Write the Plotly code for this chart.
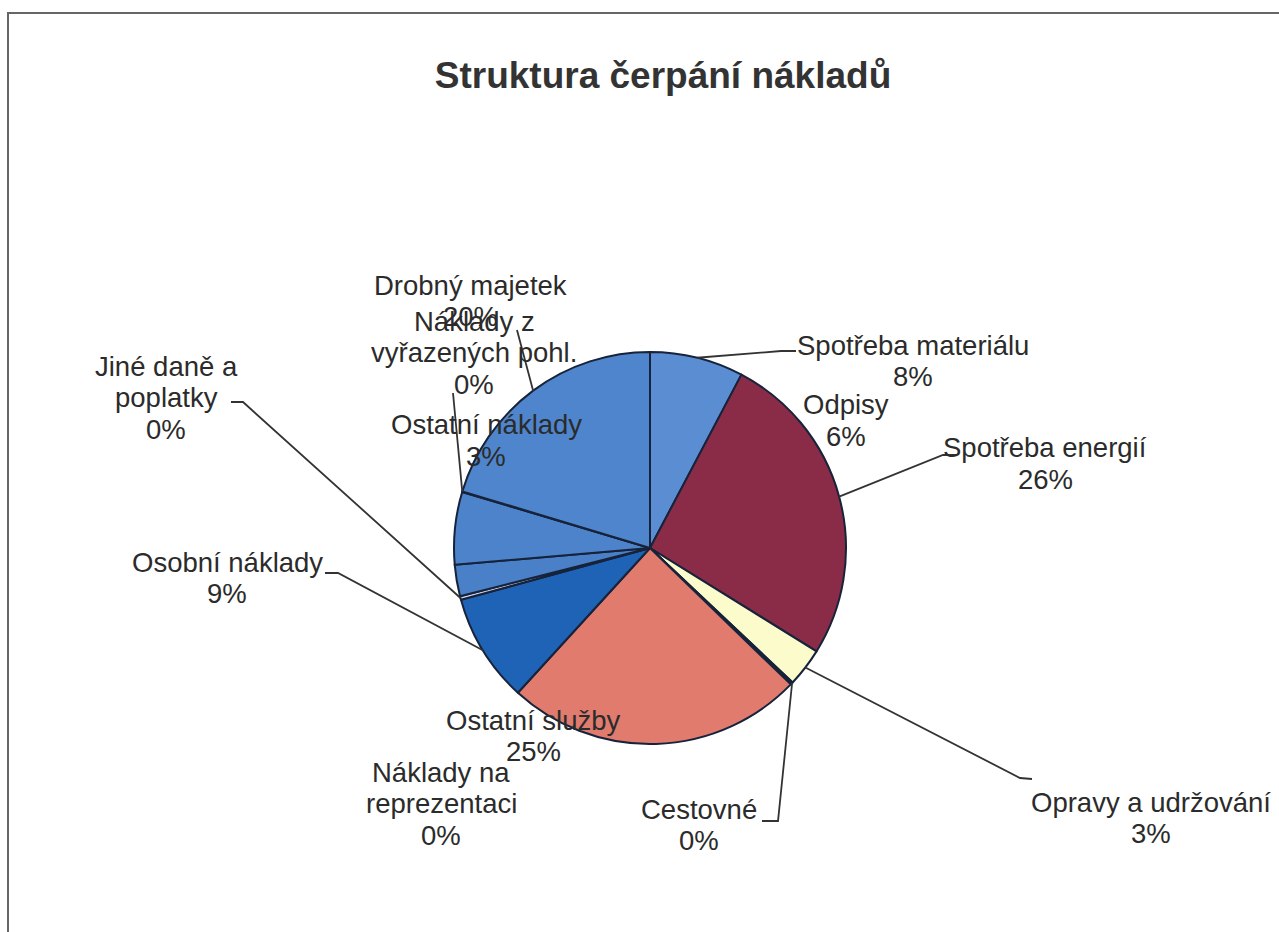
import math
import plotly.graph_objects as go

# ---- data ----
categories = [
    "Spotřeba materiálu", "Spotřeba energií", "Opravy a udržování", "Cestovné",
    "Náklady na reprezentaci", "Ostatní služby", "Osobní náklady",
    "Jiné daně a poplatky", "Ostatní náklady", "Odpisy",
    "Náklady z vyřazených pohl.", "Drobný majetek",
]
values = [7.75, 26.2, 3.2, 0.12, 0.1, 24.6, 9.0, 0.3, 2.6, 6.0, 0.05, 20.4]
pct_labels = ["8%", "26%", "3%", "0%", "0%", "25%", "9%", "0%", "3%", "6%", "0%", "20%"]
label_lines = [
    ["Spotřeba materiálu"], ["Spotřeba energií"], ["Opravy a udržování"], ["Cestovné"],
    ["Náklady na", "reprezentaci"], ["Ostatní služby"], ["Osobní náklady"],
    ["Jiné daně a", "poplatky"], ["Ostatní náklady"], ["Odpisy"],
    ["Náklady z", "vyřazených pohl."], ["Drobný majetek"],
]
colors = ["#5b8dd3", "#8a2c48", "#fbfbcc", "#cdeff5", "#6a1c5c", "#e07b6e",
          "#1f63b6", "#c9d2f0", "#4a80c8", "#4d83ca", "#5588cc", "#4f85cc"]

# ---- layout geometry (pixels) ----
W, H = 1279, 932
CX, CY, R = 650, 548, 196
FONT = "Liberation Sans, Arial, sans-serif"
LBL_SIZE = 27.5
LINE_STEP = 31.5

# label placement: centre x, first line centre y
label_pos = {
    "Spotřeba materiálu": (913, 345),
    "Spotřeba energií": (1045, 448),
    "Opravy a udržování": (1151, 802),
    "Cestovné": (699, 809),
    "Náklady na reprezentaci": (441, 772),
    "Ostatní služby": (533, 720),
    "Osobní náklady": (227, 562),
    "Jiné daně a poplatky": (166, 366),
    "Ostatní náklady": (486, 425),
    "Odpisy": (846, 405),
    "Náklady z vyřazených pohl.": (474, 321),
    "Drobný majetek": (471, 285),
}
# leader line elbows (pixels) per category: list of points after the pie point
leaders = {
    "Spotřeba materiálu": [(781, 351), (796, 351)],
    "Spotřeba energií": [(943, 455), (957, 455)],
    "Opravy a udržování": [(1020, 778), (1032, 779)],
    "Cestovné": [(778, 821), (762, 821)],
    "Osobní náklady": [(338, 573), (325, 573)],
    "Jiné daně a poplatky": [(243, 402), (231, 402)],
    "Náklady z vyřazených pohl.": [(453, 393)],
    "Drobný majetek": [(517, 330)],
}


def px(x):
    return x / W


def py(y):
    return 1 - y / H


fig = go.Figure(go.Pie(
    labels=categories,
    values=values,
    sort=False,
    direction="clockwise",
    rotation=0,
    textinfo="none",
    marker=dict(colors=colors, line=dict(color="#17233a", width=2)),
    domain=dict(x=[px(CX - R), px(CX + R)], y=[py(CY + R), py(CY - R)]),
    showlegend=False,
))

total = sum(values)
annotations = []
shapes = []
cum = 0.0
for cat, v, pct, lines in zip(categories, values, pct_labels, label_lines):
    mid = (cum + v / 2) / total * 2 * math.pi
    cum += v
    x0, y0 = label_pos[cat]
    all_lines = lines + [pct]
    for i, t in enumerate(all_lines):
        annotations.append(dict(
            x=px(x0), y=py(y0 + i * LINE_STEP), xref="paper", yref="paper",
            text=t, showarrow=False, xanchor="center", yanchor="middle",
            font=dict(family=FONT, size=LBL_SIZE, color="#2b2b2b"),
        ))
    if cat in leaders:
        sx = CX + R * math.sin(mid)
        sy = CY - R * math.cos(mid)
        pts = [(sx, sy)] + leaders[cat]
        path = "M " + " L ".join(f"{px(a):.5f},{py(b):.5f}" for a, b in pts)
        shapes.append(dict(type="path", path=path, xref="paper", yref="paper",
                           line=dict(color="#333333", width=1.8)))

# frame
shapes.append(dict(type="path", xref="paper", yref="paper",
                   path=f"M {px(8)},{py(H)} L {px(8)},{py(13)} L {px(W)},{py(13)}",
                   line=dict(color="#666666", width=2)))

fig.update_layout(
    width=W, height=H,
    margin=dict(l=0, r=0, t=0, b=0),
    paper_bgcolor="white",
    plot_bgcolor="white",
    title=dict(text="<b>Struktura čerpání nákladů</b>", x=px(663), xanchor="center",
               y=py(75), yanchor="middle", yref="paper",
               font=dict(family=FONT, size=37, color="#333333")),
    annotations=annotations,
    shapes=shapes,
)

fig.write_html("out.html", config={"displayModeBar": False},
               post_script="document.body.style.margin='0';document.body.style.overflow='hidden';")
